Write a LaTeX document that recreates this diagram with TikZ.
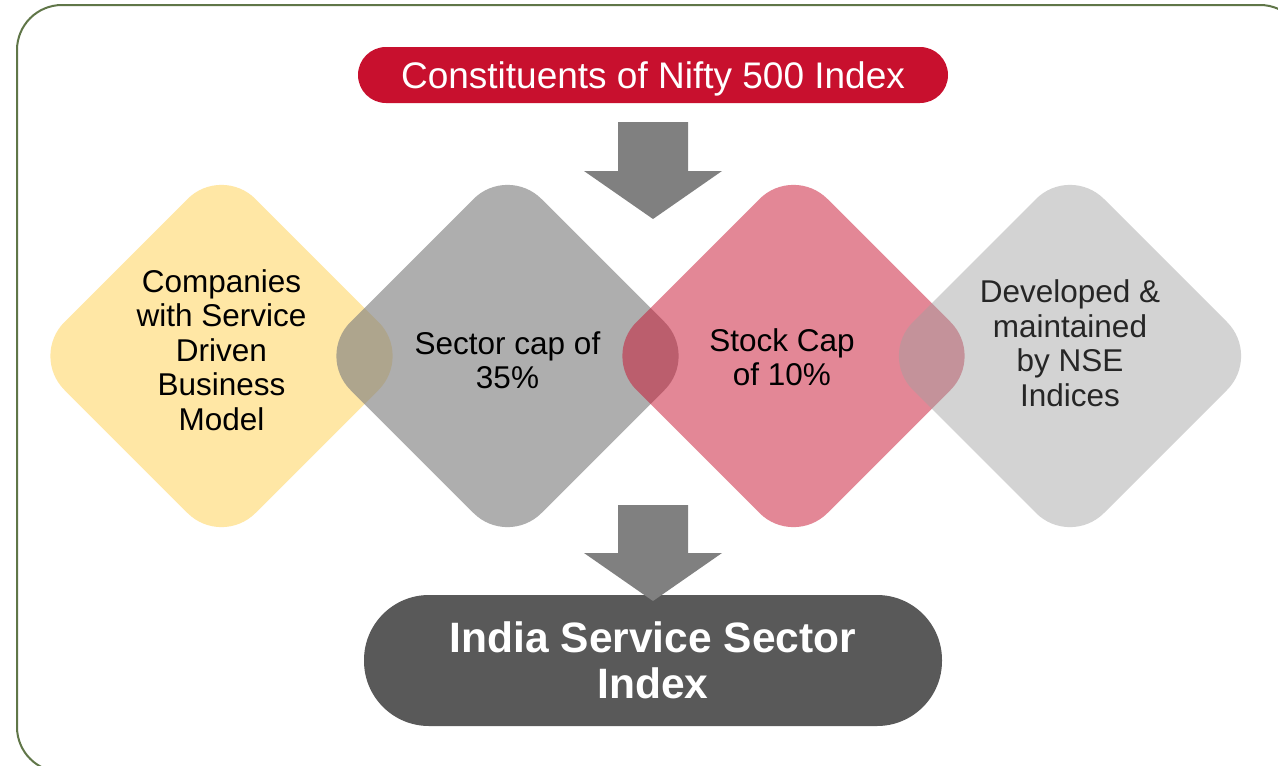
\documentclass[tikz,border=0pt]{standalone}
\usepackage{fontspec}
\setmainfont{Liberation Sans}
\definecolor{crimson}{RGB}{200,16,46}
\definecolor{paleyellow}{RGB}{255,231,165}
\definecolor{midgray}{RGB}{127,127,127}
\definecolor{lightgray4}{RGB}{160,160,160}
\definecolor{arrowgray}{RGB}{128,128,128}
\definecolor{darkoval}{RGB}{89,89,89}
\definecolor{olive}{RGB}{96,118,72}
\definecolor{softblack}{RGB}{38,38,38}
\tikzset{
  dia/.style={rounded corners=48pt},
  difont/.style={font=\fontsize{31.5}{34.5}\selectfont, align=center, inner sep=0pt},
  blockarrow/.style={fill=arrowgray},
}
\begin{document}
\begin{tikzpicture}[x=1pt,y=-1pt]
\useasboundingbox (0,0) rectangle (1278,766);
\clip (0,0) rectangle (1278,766);
\fill[white] (0,0) rectangle (1278,766);
% frame
\draw[olive, line width=2pt, rounded corners=45pt] (17,5) rectangle (1305,772);
% diamonds
\fill[paleyellow, dia, shift={(221.5,356)}] (-191,0) -- (0,-191) -- (191,0) -- (0,191) -- cycle;
\fill[midgray, fill opacity=0.63, dia, shift={(507.5,356)}] (-191,0) -- (0,-191) -- (191,0) -- (0,191) -- cycle;
\fill[crimson, fill opacity=0.5, dia, shift={(793.5,356)}] (-191,0) -- (0,-191) -- (191,0) -- (0,191) -- cycle;
\fill[lightgray4, fill opacity=0.46, dia, shift={(1070,356)}] (-191,0) -- (0,-191) -- (191,0) -- (0,191) -- cycle;
% top pill
\node[fill=crimson, rounded corners=28pt, minimum width=590pt, minimum height=56pt, inner sep=0pt,
      text height=34pt, text depth=7.4pt,
      text=white, font=\fontsize{37}{40}\selectfont] (top) at (653,75) {Constituents of Nifty 500 Index};
% bottom oval
\node[fill=darkoval, rounded corners=65pt, minimum width=578pt, minimum height=131pt, inner sep=0pt,
      text=white, align=center, font=\fontsize{42.5}{46}\selectfont\bfseries] (bottom) at (653,660.5) {India Service Sector\\Index};
% arrows
\fill[blockarrow] (618,122) -- (688,122) -- (688,171) -- (722,171) -- (653,219) -- (584,171) -- (618,171) -- cycle;
\fill[blockarrow] (618,505) -- (688,505) -- (688,553) -- (722,553) -- (653,601) -- (584,553) -- (618,553) -- cycle;
% texts
\node[difont] (t1) at (221.5,350) {Companies\\with Service\\Driven\\Business\\Model};
\node[difont] (t2) at (507.5,360.5) {Sector cap of\\35\%};
\node[difont] (t3) at (782,357) {Stock Cap\\of 10\%};
\node[difont, text=softblack] (t4) at (1070,343) {Developed \&\\maintained\\by NSE\\Indices};
\end{tikzpicture}
\end{document}
